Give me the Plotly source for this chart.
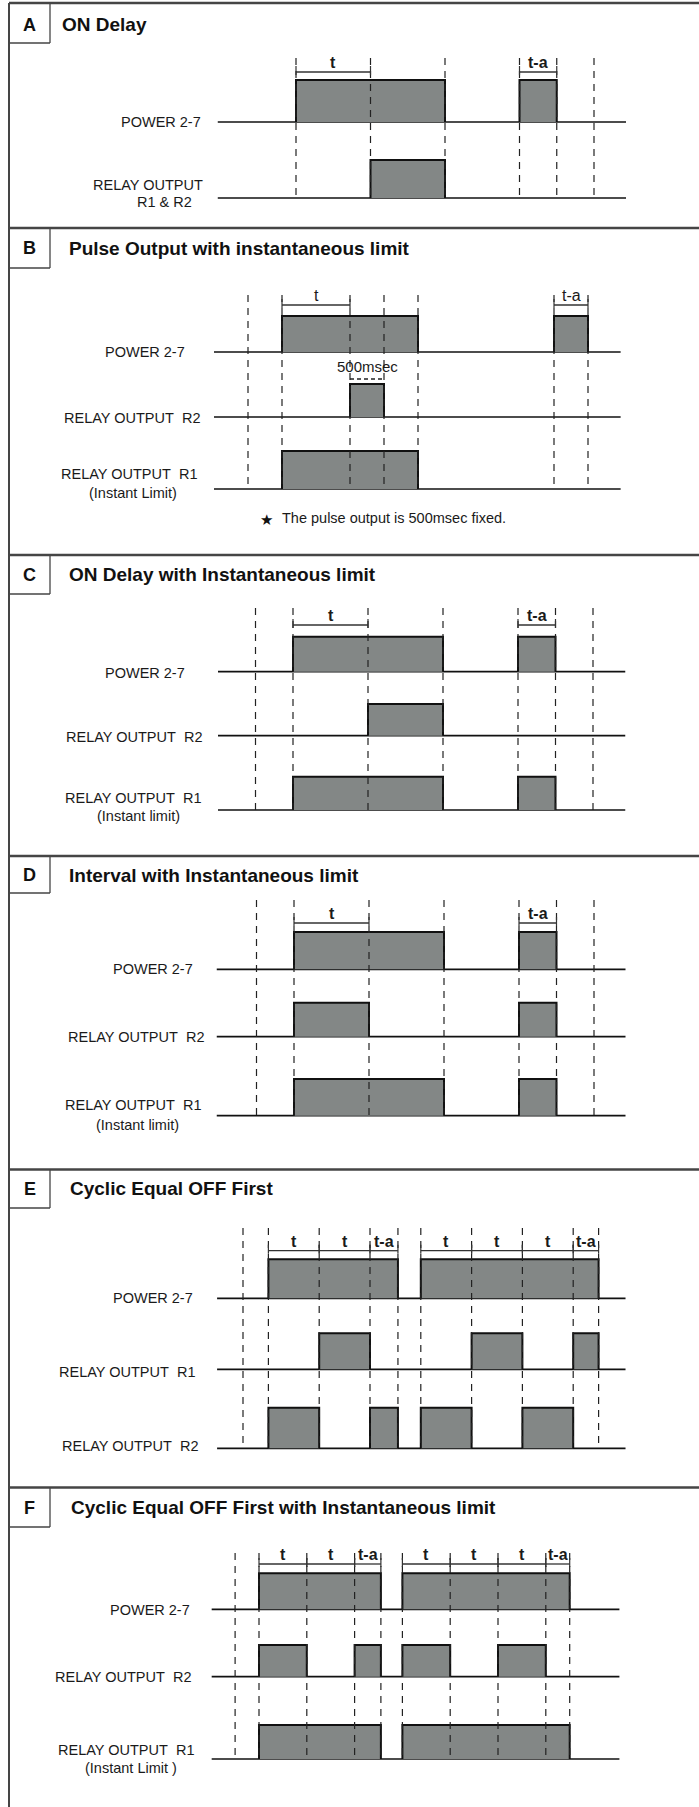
import plotly.graph_objects as go

W, H = 699, 1807

# ---------------- data : edge times in units of t ----------------
A_marks = [0, 1, 2, 3, 3.5, 4]
A_power = [[0, 2], [3, 3.5]]
A_relay = [[1, 2]]
A_spans = [[0, 1, "t"], [3, 3.5, "t-a"]]

B_marks = [-0.5, 0, 1, 1.5, 2, 4, 4.5]
B_power = [[0, 2], [4, 4.5]]
B_r2 = [[1, 1.5]]
B_r1 = [[0, 2]]
B_spans = [[0, 1, "t"], [4, 4.5, "t-a"]]
B_pulse = [1, 1.5, "500msec"]

C_marks = [-0.5, 0, 1, 2, 3, 3.5, 4]
C_power = [[0, 2], [3, 3.5]]
C_r2 = [[1, 2]]
C_r1 = [[0, 2], [3, 3.5]]
C_spans = [[0, 1, "t"], [3, 3.5, "t-a"]]

D_marks = [-0.5, 0, 1, 2, 3, 3.5, 4]
D_power = [[0, 2], [3, 3.5]]
D_r2 = [[0, 1], [3, 3.5]]
D_r1 = [[0, 2], [3, 3.5]]
D_spans = [[0, 1, "t"], [3, 3.5, "t-a"]]

E_marks = [-0.5, 0, 1, 2, 2.55, 3, 4, 5, 6, 6.5]
E_power = [[0, 2.55], [3, 6.5]]
E_r1 = [[1, 2], [4, 5], [6, 6.5]]
E_r2 = [[0, 1], [2, 2.55], [3, 4], [5, 6]]
E_spans = [[0, 1, "t"], [1, 2, "t"], [2, 2.55, "t-a"],
           [3, 4, "t"], [4, 5, "t"], [5, 6, "t"], [6, 6.5, "t-a"]]

F_marks = [-0.5, 0, 1, 2, 2.55, 3, 4, 5, 6, 6.5]
F_power = [[0, 2.55], [3, 6.5]]
F_r2 = [[0, 1], [2, 2.55], [3, 4], [5, 6]]
F_r1 = [[0, 2.55], [3, 6.5]]
F_spans = [[0, 1, "t"], [1, 2, "t"], [2, 2.55, "t-a"],
           [3, 4, "t"], [4, 5, "t"], [5, 6, "t"], [6, 6.5, "t-a"]]

SP = "\u00a0 "
R1 = "RELAY OUTPUT" + SP + "R1"
R2 = "RELAY OUTPUT" + SP + "R2"

# ---------------- layout of each panel (pixels) ----------------
PANELS = [
    dict(letter="A", title="ON Delay", marks=A_marks, spans=A_spans,
         origin=296, unit=74.5, line=(-1.05, 4.43), top=3, box_bottom=43,
         head_y=24, letter_y=25, title_x=60, mark_top=58, bracket_y=72, bold_t=True,
         rows=[dict(pulses=A_power, base=122, high=80,
                    labels=[("POWER 2-7", 203, 122, "right")]),
               dict(pulses=A_relay, base=198, high=160,
                    labels=[("RELAY OUTPUT", 205, 185, "right"), ("R1 & R2", 164, 202, "center")])]),
    dict(letter="B", title="Pulse Output with instantaneous limit", marks=B_marks, spans=B_spans,
         origin=282, unit=68, line=(-1.0, 4.98), top=228, box_bottom=268,
         head_y=248, letter_y=248, title_x=67, mark_top=295, bracket_y=305, bold_t=False,
         rows=[dict(pulses=B_power, base=352, high=316,
                    labels=[("POWER 2-7", 187, 352, "right")]),
               dict(pulses=B_r2, base=417, high=384,
                    labels=[(R2, 201.5, 418, "right")]),
               dict(pulses=B_r1, base=489, high=451,
                    labels=[(R1, 199, 474, "right"), ("(Instant Limit)", 133, 493, "center")])]),
    dict(letter="C", title="ON Delay with Instantaneous limit", marks=C_marks, spans=C_spans,
         origin=293, unit=75, line=(-1.0, 4.43), top=555, box_bottom=594,
         head_y=574, letter_y=575, title_x=67, mark_top=608, bracket_y=625, bold_t=True,
         rows=[dict(pulses=C_power, base=671.7, high=636.7,
                    labels=[("POWER 2-7", 187, 673, "right")]),
               dict(pulses=C_r2, base=735.7, high=704,
                    labels=[(R2, 204, 737, "right")]),
               dict(pulses=C_r1, base=810, high=776.7,
                    labels=[(R1, 203, 798, "right"), ("(Instant limit)", 138, 816, "center")])]),
    dict(letter="D", title="Interval with Instantaneous limit", marks=D_marks, spans=D_spans,
         origin=294, unit=75, line=(-1.03, 4.42), top=856, box_bottom=893,
         head_y=875, letter_y=875, title_x=67, mark_top=900, bracket_y=923, bold_t=True,
         rows=[dict(pulses=D_power, base=969.3, high=932,
                    labels=[("POWER 2-7", 195, 969, "right")]),
               dict(pulses=D_r2, base=1036.7, high=1002.7,
                    labels=[(R2, 206, 1037, "right")]),
               dict(pulses=D_r1, base=1115.7, high=1079,
                    labels=[(R1, 203, 1105, "right"), ("(Instant limit)", 137, 1125, "center")])]),
    dict(letter="E", title="Cyclic Equal OFF First", marks=E_marks, spans=E_spans,
         origin=268.4, unit=50.8, line=(-1.01, 7.03), top=1169.5, box_bottom=1208,
         head_y=1188, letter_y=1189, title_x=68, mark_top=1228, bracket_y=1250.7, bold_t=True,
         rows=[dict(pulses=E_power, base=1298.3, high=1259.3,
                    labels=[("POWER 2-7", 195, 1298, "right")]),
               dict(pulses=E_r1, base=1369.3, high=1333.3,
                    labels=[(R1, 197.5, 1372, "right")]),
               dict(pulses=E_r2, base=1448.3, high=1407.7,
                    labels=[(R2, 200, 1446, "right")])]),
    dict(letter="F", title="Cyclic Equal OFF First with Instantaneous limit", marks=F_marks, spans=F_spans,
         origin=259, unit=47.8, line=(-0.99, 7.54), top=1487.5, box_bottom=1527,
         head_y=1507, letter_y=1508, title_x=69, mark_top=1553, bracket_y=1564, bold_t=True,
         rows=[dict(pulses=F_power, base=1609.3, high=1573.3,
                    labels=[("POWER 2-7", 191.7, 1610, "right")]),
               dict(pulses=F_r2, base=1676.7, high=1645,
                    labels=[(R2, 193, 1677, "right")]),
               dict(pulses=F_r1, base=1759, high=1725,
                    labels=[(R1, 196, 1750, "right"), ("(Instant Limit )", 131, 1768, "center")])]),
]

FILL = "#838786"
EDGE = "#111111"
FONT = "Liberation Sans, Arial, Helvetica, sans-serif"
FRAME = "#454545"
LABEL_SIZE = 14.5

fig = go.Figure()
annotations = []
shapes = []


def px(v):
    return v / W


for i, p in enumerate(PANELS):
    xa = "x" if i == 0 else "x%d" % (i + 1)
    key = "xaxis" if i == 0 else "xaxis%d" % (i + 1)
    ax = dict(range=[-p["origin"] / p["unit"], (W - p["origin"]) / p["unit"]],
              domain=[0, 1], anchor="y", visible=False, fixedrange=True)
    if i > 0:
        ax["overlaying"] = "x"
    fig.layout[key] = ax

    last_base = p["rows"][-1]["base"]
    # baselines + pulses
    for r in p["rows"]:
        fig.add_trace(go.Scatter(x=list(p["line"]), y=[r["base"], r["base"]], xaxis=xa, yaxis="y",
                                 mode="lines", line=dict(color=EDGE, width=1.7),
                                 hoverinfo="skip", showlegend=False))
        xs, ys = [], []
        for s, e in r["pulses"]:
            xs += [s, s, e, e, None]
            ys += [r["base"], r["high"], r["high"], r["base"], None]
        fig.add_trace(go.Scatter(x=xs, y=ys, xaxis=xa, yaxis="y", mode="lines", fill="toself",
                                 fillcolor=FILL, line=dict(color=EDGE, width=2),
                                 hoverinfo="skip", showlegend=False))
        for text, lx, ly, anc in r["labels"]:
            annotations.append(dict(text=text, x=px(lx), y=ly, xref="paper", yref="y",
                                    xanchor=anc, yanchor="middle", showarrow=False,
                                    font=dict(family=FONT, size=LABEL_SIZE, color="#1a1a1a")))
    # dashed timing marks
    xs, ys = [], []
    for m in p["marks"]:
        xs += [m, m, None]
        ys += [p["mark_top"], last_base, None]
    fig.add_trace(go.Scatter(x=xs, y=ys, xaxis=xa, yaxis="y", mode="lines",
                             line=dict(color="#222222", width=1.2, dash="7px,6px"),
                             hoverinfo="skip", showlegend=False))
    # brackets
    by = p["bracket_y"]
    bx, byy, tx, ty = [], [], [], []
    for s, e, lab in p["spans"]:
        bx += [s, e, None]
        byy += [by, by, None]
        tx += [s, s, None, e, e, None]
        ty += [by - 6, by + 3, None, by - 6, by + 3, None]
        t = "<b>%s</b>" % lab if p["bold_t"] else lab
        annotations.append(dict(text=t, x=(s + e) / 2, y=by - 9.5, xref=xa, yref="y",
                                xanchor="center", yanchor="middle", showarrow=False,
                                font=dict(family=FONT, size=16, color="#1a1a1a")))
    fig.add_trace(go.Scatter(x=bx, y=byy, xaxis=xa, yaxis="y", mode="lines",
                             line=dict(color="#333333", width=1.3),
                             hoverinfo="skip", showlegend=False))
    fig.add_trace(go.Scatter(x=tx, y=ty, xaxis=xa, yaxis="y", mode="lines",
                             line=dict(color="#333333", width=1.2),
                             hoverinfo="skip", showlegend=False))

    # frame: divider, letter box
    shapes.append(dict(type="line", xref="paper", yref="y", x0=px(9), x1=1, y0=p["top"], y1=p["top"],
                       line=dict(color=FRAME, width=2.5)))
    shapes.append(dict(type="line", xref="paper", yref="y", x0=px(50), x1=px(50),
                       y0=p["top"], y1=p["box_bottom"], line=dict(color=FRAME, width=1.3)))
    shapes.append(dict(type="line", xref="paper", yref="y", x0=px(9), x1=px(50),
                       y0=p["box_bottom"], y1=p["box_bottom"], line=dict(color=FRAME, width=1.3)))
    annotations.append(dict(text="<b>%s</b>" % p["letter"], x=px(29.5), y=p["letter_y"], xref="paper",
                            yref="y", xanchor="center", yanchor="middle", showarrow=False,
                            font=dict(family=FONT, size=18, color="#111111")))
    annotations.append(dict(text="<b>%s</b>" % p["title"], x=px(p["title_x"]), y=p["head_y"],
                            xref="paper", yref="y", xanchor="left", yanchor="middle", showarrow=False,
                            font=dict(family=FONT, size=19, color="#111111")))

# panel B: 500 msec pulse note
s, e, lab = B_pulse
annotations.append(dict(text=lab, x=(s + e) / 2, y=366, xref="x2", yref="y", xanchor="center",
                        yanchor="middle", showarrow=False, font=dict(family=FONT, size=15, color="#1a1a1a")))
fig.add_trace(go.Scatter(x=[s, e], y=[379, 379], xaxis="x2", yaxis="y", mode="lines",
                         line=dict(color="#222222", width=1.3, dash="4px,3px"),
                         hoverinfo="skip", showlegend=False))
annotations.append(dict(text="\u2605", x=px(266), y=520, xref="paper", yref="y", xanchor="center",
                        yanchor="middle", showarrow=False,
                        font=dict(family="DejaVu Sans, sans-serif", size=15, color="#111111")))
annotations.append(dict(text="The pulse output is 500msec fixed.", x=px(280), y=518, xref="paper", yref="y",
                        xanchor="left", yanchor="middle", showarrow=False,
                        font=dict(family=FONT, size=14.5, color="#1a1a1a")))

# outer left border
shapes.append(dict(type="line", xref="paper", yref="y", x0=px(9), x1=px(9), y0=3, y1=H,
                   line=dict(color=FRAME, width=2)))

fig.update_layout(
    width=W, height=H, margin=dict(l=0, r=0, t=0, b=0),
    paper_bgcolor="white", plot_bgcolor="white",
    yaxis=dict(range=[H, 0], domain=[0, 1], visible=False, fixedrange=True),
    annotations=annotations, shapes=shapes, showlegend=False,
)

fig.write_html("out.html", config={"displayModeBar": False, "staticPlot": True},
               post_script="document.body.style.margin='0';document.body.style.padding='0';"
                           "document.documentElement.style.overflow='hidden';")
